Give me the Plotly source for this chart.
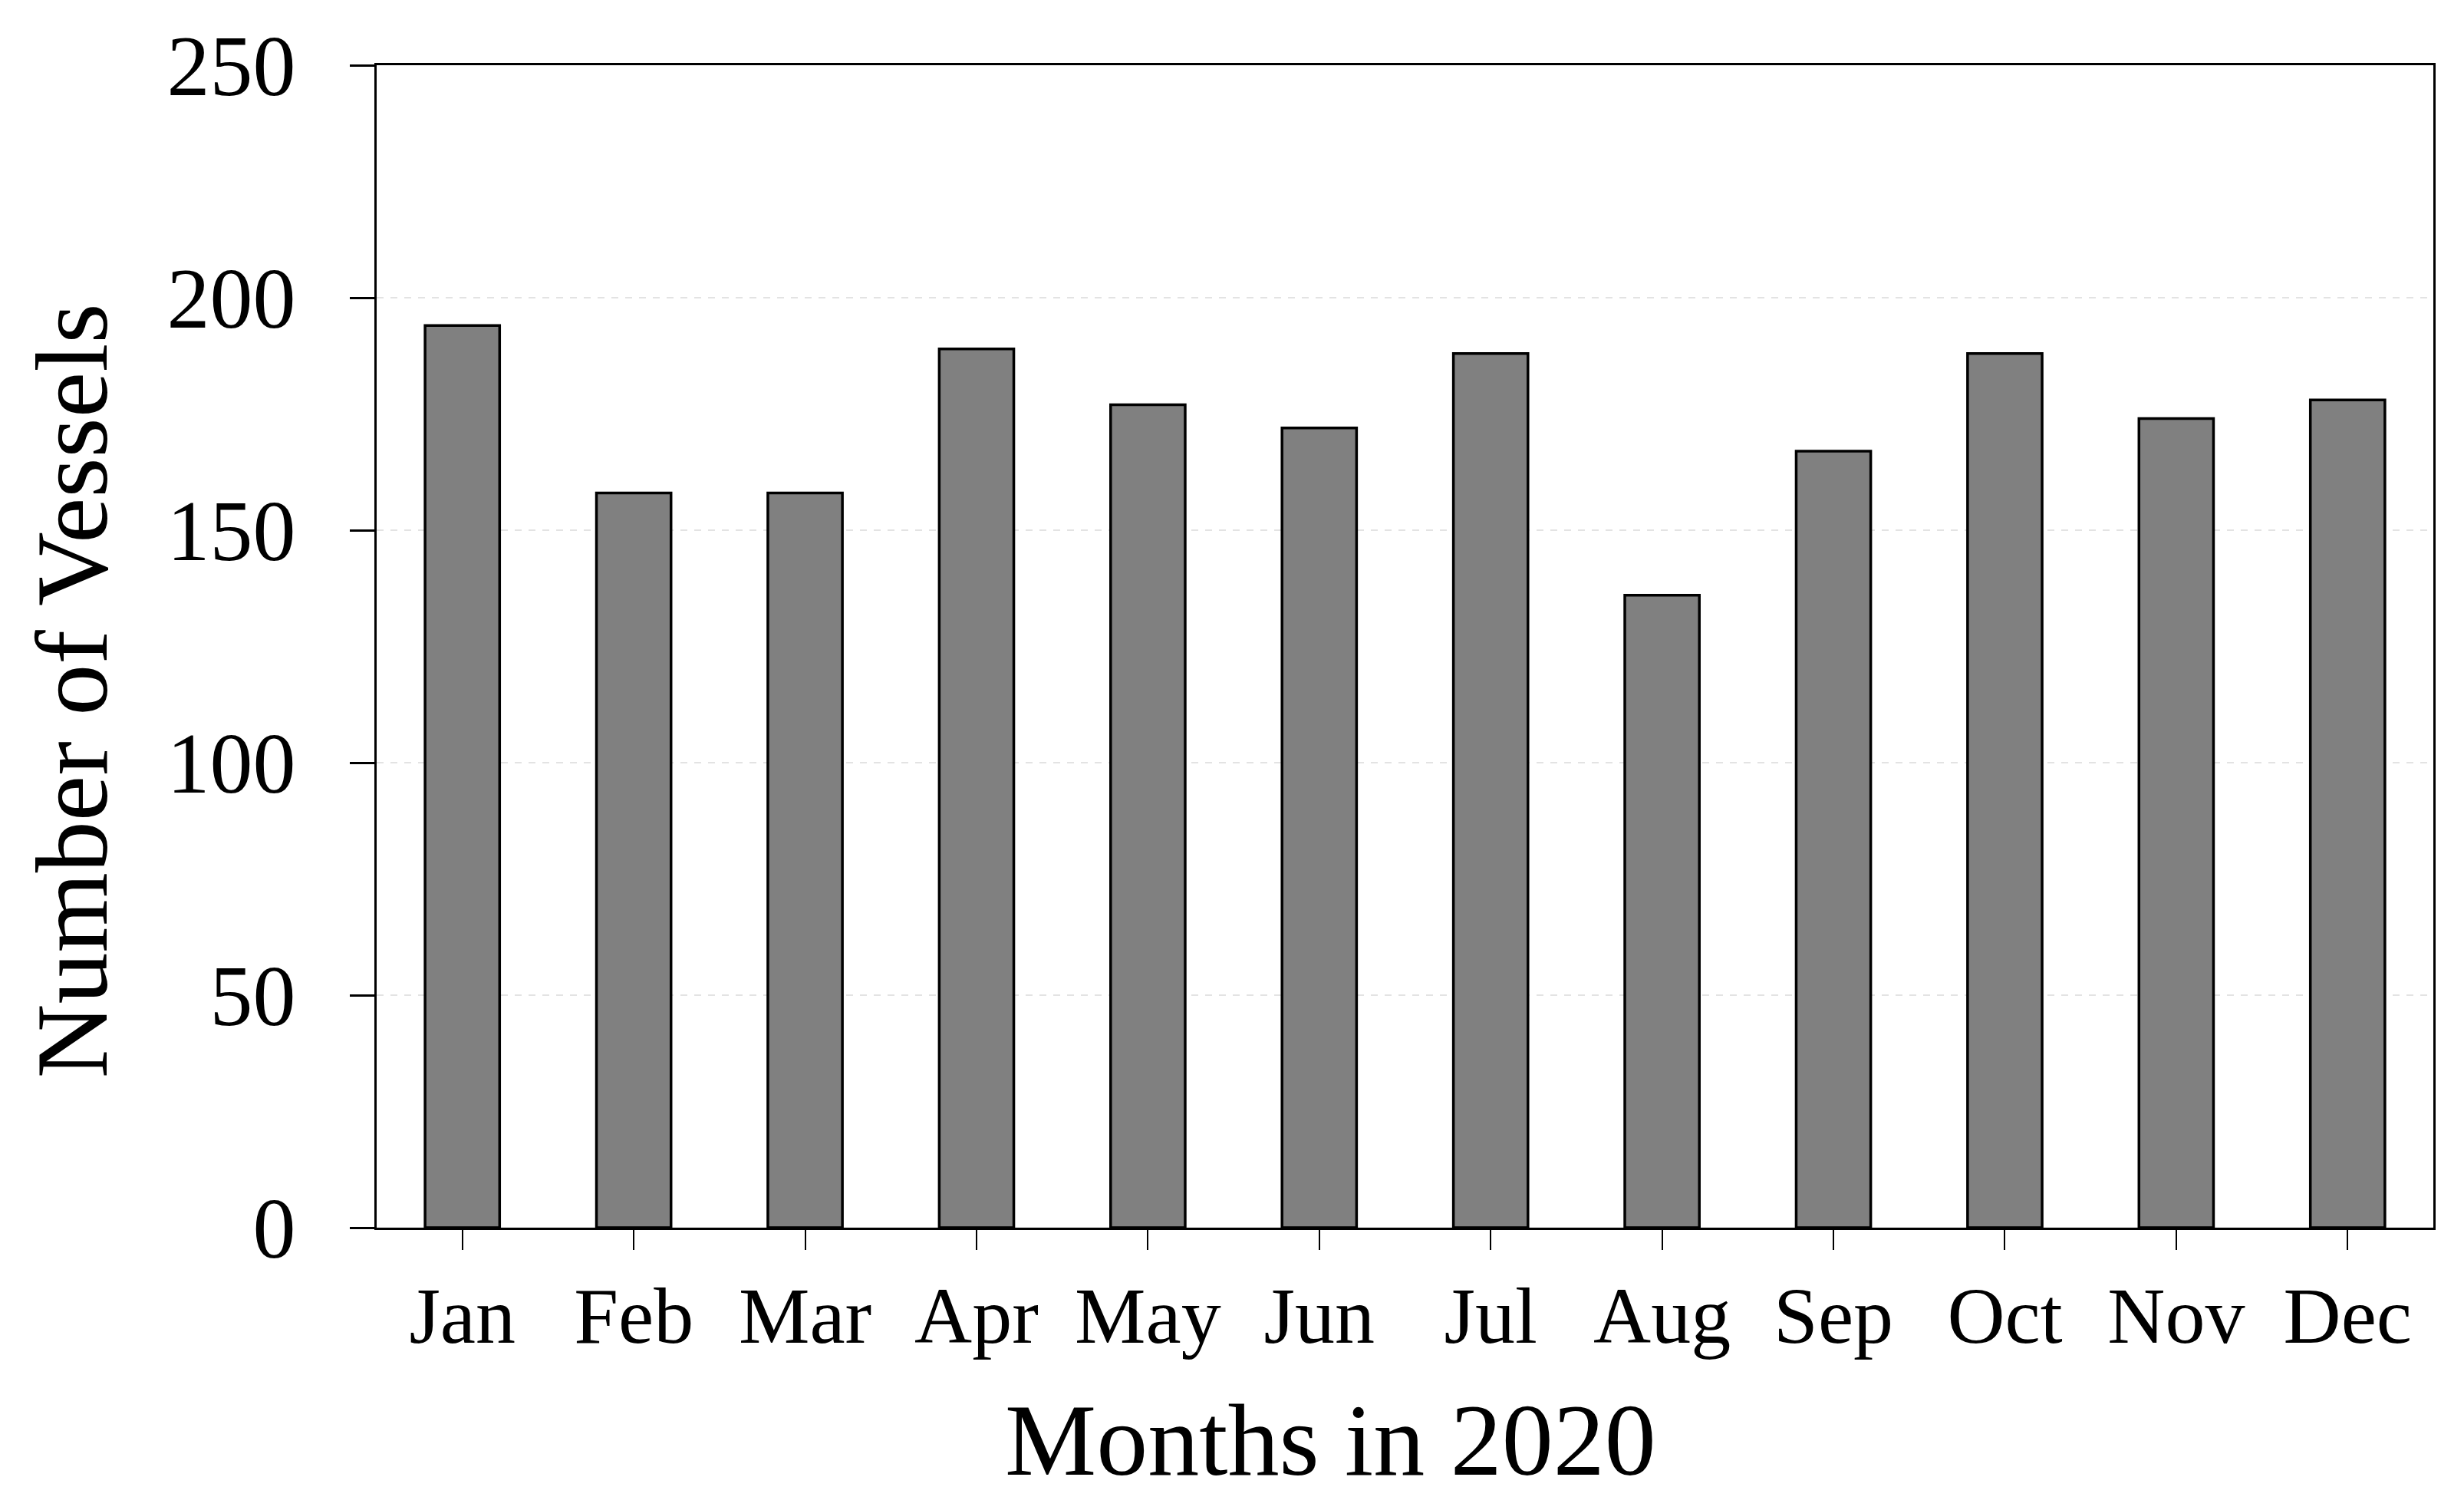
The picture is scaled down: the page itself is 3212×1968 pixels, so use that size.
import plotly.graph_objects as go

months = ["Jan", "Feb", "Mar", "Apr", "May", "Jun", "Jul", "Aug", "Sep", "Oct", "Nov", "Dec"]
vessels = [194, 158, 158, 189, 177, 172, 188, 136, 167, 188, 174, 178]
y_ticks = [0, 50, 100, 150, 200, 250]

FONT = "Liberation Serif, Times New Roman, serif"

fig = go.Figure()
fig.add_trace(go.Bar(
    x=months, y=vessels, width=0.435,
    marker=dict(color="#808080", line=dict(color="black", width=3.5)),
    showlegend=False,
))

fig.update_layout(
    width=3212, height=1968, autosize=False,
    margin=dict(l=483, r=48, t=77, b=376, pad=0),
    paper_bgcolor="white", plot_bgcolor="white",
    font=dict(family=FONT, color="black"),
)
fig.update_xaxes(
    type="category", range=[-0.5, 11.5],
    showline=True, linecolor="black", linewidth=3, mirror=True,
    ticks="outside", ticklen=26, tickwidth=2, tickcolor="black",
    tickfont=dict(family=FONT, size=104, color="black"),
    ticklabelstandoff=-4,
    showgrid=False, zeroline=False,
)
fig.update_yaxes(
    range=[0, 250], tickvals=y_ticks,
    showline=True, linecolor="black", linewidth=3, mirror=True,
    ticks="outside", ticklen=32, tickwidth=3, tickcolor="black",
    tickfont=dict(family=FONT, size=112, color="black"),
    ticklabelstandoff=48,
    showgrid=True, gridcolor="#e3e3e3", gridwidth=2, griddash="dash",
    zeroline=False,
)
fig.add_annotation(
    text="Months in 2020", xref="paper", yref="paper",
    x=0.464, y=-0.183, xanchor="center", yanchor="middle",
    showarrow=False, font=dict(family=FONT, size=134, color="black"),
)
fig.add_annotation(
    text="Number of Vessels", xref="paper", yref="paper",
    x=-0.148, y=0.462, xanchor="center", yanchor="middle", textangle=-90,
    showarrow=False, font=dict(family=FONT, size=134, color="black"),
)

fig.write_html("out.html")
